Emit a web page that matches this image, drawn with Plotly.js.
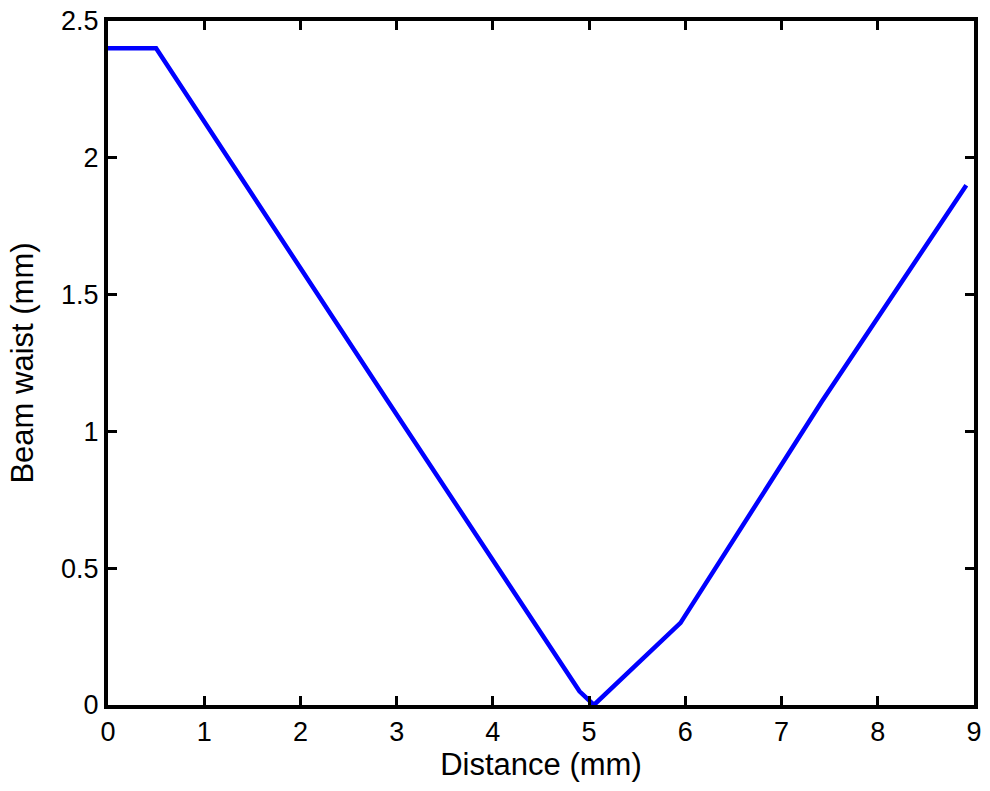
<!DOCTYPE html>
<html>
<head>
<meta charset="utf-8">
<script src="https://cdn.plot.ly/plotly-3.0.1.min.js"></script>
<style>
  html, body { margin: 0; padding: 0; background: #fff; }
  #chart { width: 990px; height: 791px; }
</style>
</head>
<body>
<div id="chart"></div>
<script>
// Beam waist profile along the propagation distance
const distanceMm = [0, 0.5, 2.9, 4.9, 5.05, 5.95, 7.42, 8.92];
const beamWaistMm = [2.4, 2.4, 1.115, 0.05, 0.0, 0.30, 1.11, 1.90];

const xTicks = [0, 1, 2, 3, 4, 5, 6, 7, 8, 9];
const yTicks = [0, 0.5, 1, 1.5, 2, 2.5];
const yTickLabels = ['0', '0.5', '1', '1.5', '2', '2.5'];

const fontFamily = 'Liberation Sans, Arial, Helvetica, sans-serif';

const axisCommon = {
  showline: true,
  linecolor: '#000',
  linewidth: 4,
  mirror: 'ticks',
  ticks: 'inside',
  ticklen: 9,
  tickwidth: 3,
  tickcolor: '#000',
  showgrid: false,
  zeroline: false,
  tickfont: { family: fontFamily, size: 27, color: '#000' }
};

const trace = {
  x: distanceMm,
  y: beamWaistMm,
  type: 'scatter',
  mode: 'lines',
  line: { color: '#0000ff', width: 4.5 },
  hoverinfo: 'skip'
};

const layout = {
  width: 990,
  height: 791,
  margin: { l: 108, r: 16, t: 21, b: 86 },
  paper_bgcolor: '#fff',
  plot_bgcolor: '#fff',
  showlegend: false,
  xaxis: Object.assign({}, axisCommon, {
    range: [0, 9],
    tickvals: xTicks,
    ticktext: xTicks.map(String),
    title: { text: 'Distance (mm)', font: { family: fontFamily, size: 31, color: '#000' }, standoff: 6 }
  }),
  yaxis: Object.assign({}, axisCommon, {
    range: [0, 2.5],
    tickvals: yTicks,
    ticktext: yTickLabels,
    title: { text: 'Beam waist (mm)', font: { family: fontFamily, size: 31, color: '#000' }, standoff: 19 }
  })
};

Plotly.newPlot('chart', [trace], layout, { displayModeBar: false, staticPlot: true });
</script>
</body>
</html>
